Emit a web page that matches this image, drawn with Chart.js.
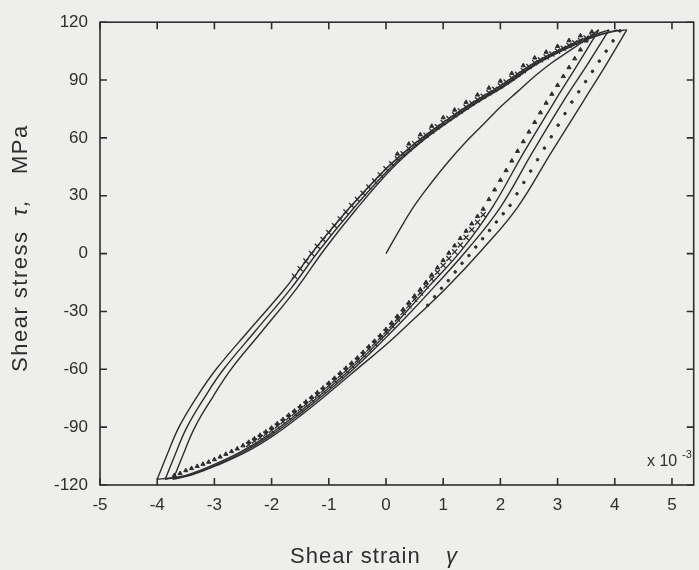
<!DOCTYPE html>
<html>
<head>
<meta charset="utf-8">
<script src="https://cdn.jsdelivr.net/npm/chart.js@4.4.1/dist/chart.umd.min.js"></script>
<style>
  html, body { margin: 0; padding: 0; background: #eeeeec; }
  #wrap { width: 699px; height: 570px; }
</style>
</head>
<body>
<div id="wrap"><canvas id="chart" width="699" height="570"></canvas></div>
<script>
// axis ticks (strain in 1e-3, stress in MPa)
const xTicks = [-5, -4, -3, -2, -1, 0, 1, 2, 3, 4, 5];
const yTicks = [-120, -90, -60, -30, 0, 30, 60, 90, 120];

// simulated curves - initial loading
const initX = [0, 0.25, 0.5, 0.8, 1.1, 1.4, 1.7, 2.0, 2.3, 2.6, 2.9, 3.2, 3.5, 3.72];
const initY = [0, 13, 25, 37, 48, 58, 67, 76, 84, 92, 99, 105, 111, 116];

// reloading branches (from negative peaks)
const load1X = [-4.0, -3.85, -3.62, -3.3, -2.97, -2.4, -1.76, -1.25, -0.66, 0, 0.5, 1.0, 1.5, 2.0, 2.6, 3.2, 3.6, 3.9];
const load1Y = [-117, -106, -90, -74, -60, -40, -18, 2, 23, 44, 57, 68, 78, 87, 99, 108, 113, 116];
const load2X = [-3.86, -3.71, -3.48, -3.16, -2.84, -2.28, -1.66, -1.16, -0.58, 0.06, 0.55, 1.05, 1.55, 2.05, 2.65, 3.25, 3.65, 3.95, 4.21];
const load2Y = [-117, -106, -90, -74, -60, -40, -18, 2, 23, 44, 57, 68, 78, 87, 99, 108, 112.5, 115, 116];
const load3X = [-3.72, -3.57, -3.34, -3.02, -2.71, -2.16, -1.56, -1.08, -0.52, 0.1, 0.58, 1.08, 1.58, 2.08, 2.68, 3.28, 3.68, 4.05];
const load3Y = [-117, -106, -90, -74, -60, -40, -18, 2, 23, 44, 57, 68, 78, 87, 99, 108, 113, 116];

// unloading branches (from positive peaks)
const un1X = [3.72, 3.35, 2.95, 2.4, 1.86, 1.3, 0.75, 0.3, -0.1, -0.55, -1.05, -1.55, -2.05, -2.55, -3.05, -3.5, -3.8, -4.0];
const un1Y = [116, 98, 79, 52, 24, 1, -17, -32, -45, -58, -71, -83, -94, -103, -110, -115, -116.5, -117];
const un2X = [3.9, 3.52, 3.1, 2.55, 2.0, 1.42, 0.85, 0.38, -0.05, -0.5, -1.0, -1.5, -2.0, -2.5, -3.0, -3.45, -3.86];
const un2Y = [116, 98, 79, 52, 24, 2, -17, -32, -45, -58, -71, -83, -94, -103, -110, -115, -117];
const un3X = [4.21, 3.85, 3.45, 2.88, 2.3, 1.68, 1.05, 0.52, 0.05, -0.45, -0.95, -1.45, -1.95, -2.45, -2.97, -3.42, -3.73];
const un3Y = [116, 98, 79, 52, 24, 2, -18, -33, -46, -58.5, -71, -83, -94, -103, -110, -115, -117];

// experimental points: crosses (upper band, then lower band)
const crossX = [-1.6, -1.5, -1.4, -1.3, -1.2, -1.1, -1.0, -0.9, -0.8, -0.7, -0.6, -0.5, -0.4, -0.3, -0.2, -0.1,
                0.0, 0.1, 0.2, 0.3, 0.4, 0.5, 0.6, 0.7, 0.8, 0.9, 1.0, 1.1, 1.2, 1.3, 1.4, 1.5, 1.6, 1.7, 1.8, 1.9,
                2.0, 2.1, 2.2, 2.3, 2.4, 2.5, 2.6, 2.7, 2.8, 2.9, 3.0, 3.1, 3.2, 3.3, 3.4, 3.5, 3.6,
                1.7, 1.6, 1.5, 1.4, 1.3, 1.2, 1.1, 1.0, 0.9, 0.8, 0.7, 0.6, 0.5, 0.4, 0.3, 0.2, 0.1, 0.0,
                -0.1, -0.2, -0.3, -0.4, -0.5, -0.6, -0.7, -0.8, -0.9, -1.0, -1.1, -1.2, -1.3, -1.4, -1.5,
                -1.6, -1.7, -1.8, -1.9, -2.0, -2.1, -2.2, -2.3, -2.4];
const crossY = [-11.7, -7.8, -3.9, 0, 3.8, 7.3, 10.9, 14.5, 18, 21.6, 24.9, 28.1, 31.3, 34.5, 37.6, 40.8,
                44, 46.6, 49.2, 51.8, 54.4, 57, 59.2, 61.4, 63.6, 65.8, 68, 70, 72, 74, 76, 78, 79.8, 81.6, 83.4, 85.2,
                87, 89, 91, 93, 95, 97, 99, 100.5, 102, 103.5, 105, 106.5, 108, 109.3, 110.5, 111.8, 113,
                20.2, 16.3, 12.4, 8.4, 4.5, 0.9, -2.6, -6.1, -9.7, -13.2, -16.8, -20.4, -23.7, -27.1, -30.5, -33.9, -37.3, -40.5,
                -43.7, -46.6, -49.5, -52.4, -55.3, -58, -60.6, -63.2, -65.8, -68.4, -70.9, -73.3, -75.7, -78.1, -80.5,
                -82.8, -85, -87.2, -89.4, -91.6, -93.6, -95.4, -97.2, -99];

// experimental points: triangles (lower-right branch, then upper band edge)
const triX = [3.6, 3.5, 3.4, 3.3, 3.2, 3.1, 3.0, 2.9, 2.8, 2.7, 2.6, 2.5, 2.4, 2.3, 2.2, 2.1, 2.0, 1.9, 1.8, 1.7,
              1.6, 1.5, 1.4, 1.3, 1.2, 1.1, 1.0, 0.9, 0.8, 0.7, 0.6, 0.5, 0.4, 0.3, 0.2, 0.1, 0.0,
              -0.1, -0.2, -0.3, -0.4, -0.5, -0.6, -0.7, -0.8, -0.9, -1.0, -1.1, -1.2, -1.3, -1.4, -1.5,
              -1.6, -1.7, -1.8, -1.9, -2.0, -2.1, -2.2, -2.3, -2.4, -2.5, -2.6, -2.7, -2.8, -2.9, -3.0,
              -3.1, -3.2, -3.3, -3.4, -3.5, -3.6, -3.7,
              0.2, 0.4, 0.6, 0.8, 1.0, 1.2, 1.4, 1.6, 1.8, 2.0, 2.2, 2.4, 2.6, 2.8, 3.0, 3.2, 3.4];
const triY = [115, 110.3, 105.7, 101.1, 96.5, 91.9, 87.3, 82.7, 78.1, 73.1, 68.1, 63.1, 58.1, 53.1, 48.1, 43.1, 38.1, 33.1, 28.1, 23.1,
              19.3, 15.5, 11.7, 7.9, 4.1, 0.3, -3.5, -7.3, -11.1, -14.9, -18.7, -22, -25.5, -29, -32.5, -36, -39.3,
              -42.5, -45.4, -48.3, -51.2, -54.1, -56.8, -59.4, -62, -64.6, -67.2, -69.7, -72.1, -74.5, -76.9, -79.3,
              -81.6, -83.8, -86, -88.2, -90.4, -92.4, -94.2, -96, -97.8, -99.6, -101.2, -102.6, -104, -105.4, -106.8,
              -108.1, -109.2, -110.3, -111.4, -112.5, -114, -115,
              51.7, 56.9, 61.7, 66.1, 70.5, 74.5, 78.5, 82.3, 85.9, 89.5, 93.5, 97.5, 101.5, 104.5, 107.5, 110.5, 113];

// experimental points: small dots (between 2nd and 3rd unloading lines)
const dotX = [4.09, 3.97, 3.85, 3.73, 3.61, 3.49, 3.37, 3.25, 3.13, 3.01, 2.89, 2.77, 2.65, 2.53, 2.41, 2.29, 2.17,
              2.05, 1.93, 1.81, 1.69, 1.57, 1.45, 1.33, 1.21, 1.09, 0.97, 0.85, 0.73];
const dotY = [115.5, 110.3, 105, 99.8, 94.5, 89.2, 83.9, 78.6, 72.6, 66.6, 60.6, 54.7, 48.7, 42.8, 36.9, 31, 25,
              20.7, 16.4, 12, 7.7, 3.4, -1, -5, -9.5, -14, -18, -22.4, -26.8];

const INK = '#2e2e2e';
const pts = (xs, ys) => xs.map((x, i) => ({ x: x, y: ys[i] }));

function simLine(xs, ys) {
  return {
    data: pts(xs, ys),
    showLine: true,
    borderColor: INK,
    borderWidth: 1.4,
    pointRadius: 0,
    tension: 0.4,
    fill: false
  };
}

function markers(xs, ys, style, radius, width) {
  return {
    data: pts(xs, ys),
    showLine: false,
    pointStyle: style,
    pointRadius: radius,
    pointBorderColor: INK,
    pointBackgroundColor: INK,
    pointBorderWidth: width
  };
}

// frame, inward ticks, axis titles and multiplier
const framePlugin = {
  id: 'frame',
  beforeDraw(chart) {
    const ctx = chart.ctx;
    ctx.save();
    ctx.fillStyle = '#eeeeec';
    ctx.fillRect(0, 0, chart.width, chart.height);
    ctx.restore();
  },
  afterDraw(chart) {
    const { ctx, chartArea: a, scales: { x, y } } = chart;
    ctx.save();
    ctx.strokeStyle = INK;
    ctx.lineWidth = 1.6;
    ctx.strokeRect(a.left, a.top, a.right - a.left, a.bottom - a.top);
    ctx.beginPath();
    xTicks.forEach(v => {
      const px = x.getPixelForValue(v);
      ctx.moveTo(px, a.bottom); ctx.lineTo(px, a.bottom - 7);
      ctx.moveTo(px, a.top); ctx.lineTo(px, a.top + 7);
    });
    yTicks.forEach(v => {
      const py = y.getPixelForValue(v);
      ctx.moveTo(a.left, py); ctx.lineTo(a.left + 7, py);
      ctx.moveTo(a.right, py); ctx.lineTo(a.right - 7, py);
    });
    ctx.stroke();

    ctx.fillStyle = INK;
    ctx.textBaseline = 'alphabetic';
    ctx.textAlign = 'left';
    ctx.font = '16px "Liberation Sans", Arial, sans-serif';
    ctx.fillText('x 10', 647, 466);
    ctx.font = '11px "Liberation Sans", Arial, sans-serif';
    ctx.fillText('-3', 682, 458);

    // x title
    ctx.font = '22px "Liberation Sans", Arial, sans-serif';
    ctx.letterSpacing = '1px';
    ctx.fillText('Shear strain', 290, 563);
    ctx.font = 'italic 22px "Liberation Sans", Arial, sans-serif';
    ctx.fillText('γ', 446, 563);

    // y title
    ctx.translate(27, 0);
    ctx.rotate(-Math.PI / 2);
    ctx.font = '22px "Liberation Sans", Arial, sans-serif';
    ctx.letterSpacing = '1.5px';
    ctx.fillText('Shear stress', -372, 0);
    ctx.font = 'italic 22px "Liberation Sans", Arial, sans-serif';
    ctx.fillText('τ,', -216, 0);
    ctx.font = '22px "Liberation Sans", Arial, sans-serif';
    ctx.fillText('MPa', -174, 0);
    ctx.restore();
  }
};

const tickFont = { family: '"Liberation Sans", Arial, sans-serif', size: 17 };

new Chart(document.getElementById('chart'), {
  type: 'scatter',
  data: {
    datasets: [
      simLine(initX, initY),
      simLine(load1X, load1Y),
      simLine(load2X, load2Y),
      simLine(load3X, load3Y),
      simLine(un1X, un1Y),
      simLine(un2X, un2Y),
      simLine(un3X, un3Y),
      markers(crossX, crossY, 'crossRot', 3.6, 1.3),
      markers(triX, triY, 'triangle', 2.4, 1),
      markers(dotX, dotY, 'circle', 1.3, 1)
    ]
  },
  options: {
    responsive: false,
    animation: false,
    layout: { padding: { top: 13, right: 1, bottom: 0, left: 0 } },
    plugins: {
      legend: { display: false },
      tooltip: { enabled: false }
    },
    scales: {
      x: {
        type: 'linear',
        min: -5,
        max: 5.38,
        grid: { display: false, drawTicks: false },
        border: { display: false },
        ticks: { font: tickFont, color: INK, padding: 10 },
        afterBuildTicks: s => { s.ticks = xTicks.map(v => ({ value: v })); },
        afterFit: s => { s.height = 85; }
      },
      y: {
        type: 'linear',
        min: -120,
        max: 120,
        grid: { display: false, drawTicks: false },
        border: { display: false },
        ticks: { font: tickFont, color: INK, padding: 12 },
        afterBuildTicks: s => { s.ticks = yTicks.map(v => ({ value: v })); },
        afterFit: s => { s.width = 100; }
      }
    }
  },
  plugins: [framePlugin]
});
</script>
</body>
</html>
